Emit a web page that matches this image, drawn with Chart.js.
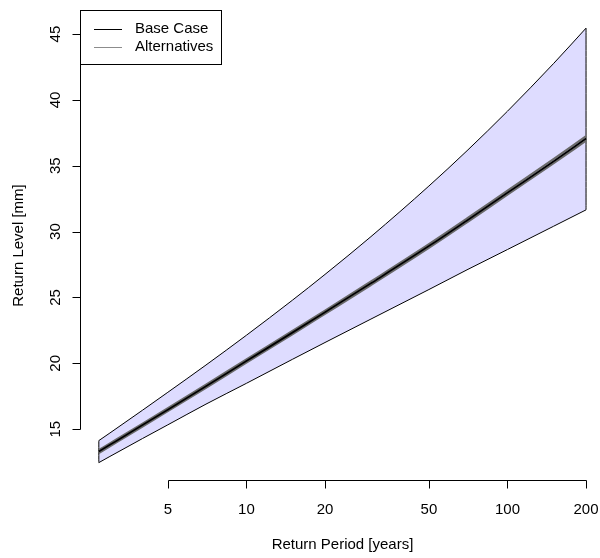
<!DOCTYPE html>
<html>
<head>
<meta charset="utf-8">
<script src="https://cdn.jsdelivr.net/npm/chart.js@4"></script>
<style>
  html, body { margin: 0; padding: 0; background: #fff; }
  canvas { display: block; }
</style>
</head>
<body>
<canvas id="chart" width="600" height="558"></canvas>
<script>
// values
const returnPeriods = [2.72, 3, 4, 5, 7, 10, 15, 20, 30, 50, 70, 100, 150, 200];
const baseCase     = [13.30, 13.81, 15.31, 16.48, 18.26, 20.17, 22.33, 23.88, 26.08, 28.90, 30.85, 32.95, 35.33, 37.07];
const altHigh      = [13.42, 13.93, 15.43, 16.60, 18.38, 20.30, 22.46, 24.01, 26.22, 29.05, 31.00, 33.11, 35.50, 37.25];
const altLow       = [13.18, 13.69, 15.19, 16.36, 18.14, 20.05, 22.20, 23.75, 25.94, 28.76, 30.70, 32.80, 35.17, 36.90];
const upperBound   = [14.13, 14.71, 16.44, 17.80, 19.87, 22.13, 24.79, 26.75, 29.62, 33.46, 36.14, 39.14, 42.75, 45.45];
const lowerBound   = [12.46, 12.93, 14.29, 15.33, 16.90, 18.48, 20.30, 21.58, 23.36, 25.60, 27.10, 28.64, 30.40, 31.65];

const xTicks = [5, 10, 20, 50, 100, 200];
const yTicks = [15, 20, 25, 30, 35, 40, 45];
const legendItems = [
    { label: 'Base Case', color: '#000000' },
    { label: 'Alternatives', color: '#8c8c8c' }
];

const FONT = '15px "Liberation Sans", Arial, sans-serif';
const pts = ys => returnPeriods.map((x, i) => ({ x: x, y: ys[i] }));
const last = returnPeriods.length - 1;

const line = (data, color, width, order, extra) => Object.assign({
    data: data, borderColor: color, borderWidth: width, pointRadius: 0,
    tension: 0, cubicInterpolationMode: 'monotone', fill: false, order: order
}, extra || {});

// R style axes + legend, positioned through the chart scales
const rAxes = {
    id: 'rAxes',
    afterDraw(chart) {
        const ctx = chart.ctx, xs = chart.scales.x, ys = chart.scales.y, area = chart.chartArea;
        ctx.save();
        ctx.strokeStyle = '#000';
        ctx.fillStyle = '#000';
        ctx.lineWidth = 1;
        ctx.font = FONT;

        // x axis
        const yAx = area.bottom + 0.5;
        ctx.beginPath();
        ctx.moveTo(Math.round(xs.getPixelForValue(xTicks[0])) + 0.5, yAx);
        ctx.lineTo(Math.round(xs.getPixelForValue(xTicks[xTicks.length - 1])) + 0.5, yAx);
        xTicks.forEach(t => {
            const px = Math.round(xs.getPixelForValue(t)) + 0.5;
            ctx.moveTo(px, yAx);
            ctx.lineTo(px, yAx + 8);
        });
        ctx.stroke();
        ctx.textAlign = 'center';
        ctx.textBaseline = 'alphabetic';
        xTicks.forEach(t => ctx.fillText(String(t), xs.getPixelForValue(t), 514));
        ctx.fillText('Return Period [years]', 342.5, 549);

        // y axis
        const xAx = area.left + 0.5;
        ctx.beginPath();
        ctx.moveTo(xAx, Math.round(ys.getPixelForValue(yTicks[0])) + 0.5);
        ctx.lineTo(xAx, Math.round(ys.getPixelForValue(yTicks[yTicks.length - 1])) + 0.5);
        yTicks.forEach(t => {
            const py = Math.round(ys.getPixelForValue(t)) + 0.5;
            ctx.moveTo(xAx, py);
            ctx.lineTo(xAx - 8, py);
        });
        ctx.stroke();
        yTicks.forEach(t => {
            ctx.save();
            ctx.translate(60, ys.getPixelForValue(t));
            ctx.rotate(-Math.PI / 2);
            ctx.fillText(String(t), 0, 0);
            ctx.restore();
        });
        ctx.save();
        ctx.translate(23, (area.top + area.bottom) / 2);
        ctx.rotate(-Math.PI / 2);
        ctx.fillText('Return Level [mm]', 0, 0);
        ctx.restore();

        // legend box
        ctx.fillStyle = '#fff';
        ctx.fillRect(80.5, 10.5, 141, 54);
        ctx.strokeRect(80.5, 10.5, 141, 54);
        ctx.textAlign = 'left';
        ctx.textBaseline = 'middle';
        legendItems.forEach((it, i) => {
            const y = 29 + i * 18;
            ctx.strokeStyle = it.color;
            ctx.beginPath();
            ctx.moveTo(94, y + 0.5);
            ctx.lineTo(122, y + 0.5);
            ctx.stroke();
            ctx.fillStyle = '#000';
            ctx.fillText(it.label, 135, y);
        });
        ctx.restore();
    }
};

new Chart(document.getElementById('chart'), {
    type: 'line',
    data: {
        datasets: [
            line(pts(baseCase), '#000000', 1.8, 0),
            line(pts(altHigh), '#6a6a6a', 2, 1),
            line(pts(altLow), '#6a6a6a', 2, 1),
            line([{ x: returnPeriods[0], y: lowerBound[0] }, { x: returnPeriods[0], y: upperBound[0] }], '#000', 1, 2),
            line([{ x: returnPeriods[last], y: lowerBound[last] }, { x: returnPeriods[last], y: upperBound[last] }], '#000', 1, 2),
            line(pts(lowerBound), '#000000', 1, 3),
            line(pts(upperBound), '#000000', 1, 4, { fill: '-1', backgroundColor: '#dedcff' })
        ]
    },
    options: {
        responsive: false,
        devicePixelRatio: 1,
        animation: false,
        layout: { padding: { left: 80, top: 11, right: 0, bottom: 78 } },
        plugins: { legend: { display: false }, tooltip: { enabled: false } },
        scales: {
            x: { type: 'logarithmic', display: false, min: 2.304, max: 226.2 },
            y: { type: 'linear', display: false, min: 11.14, max: 46.75 }
        }
    },
    plugins: [rAxes]
});
</script>
</body>
</html>
